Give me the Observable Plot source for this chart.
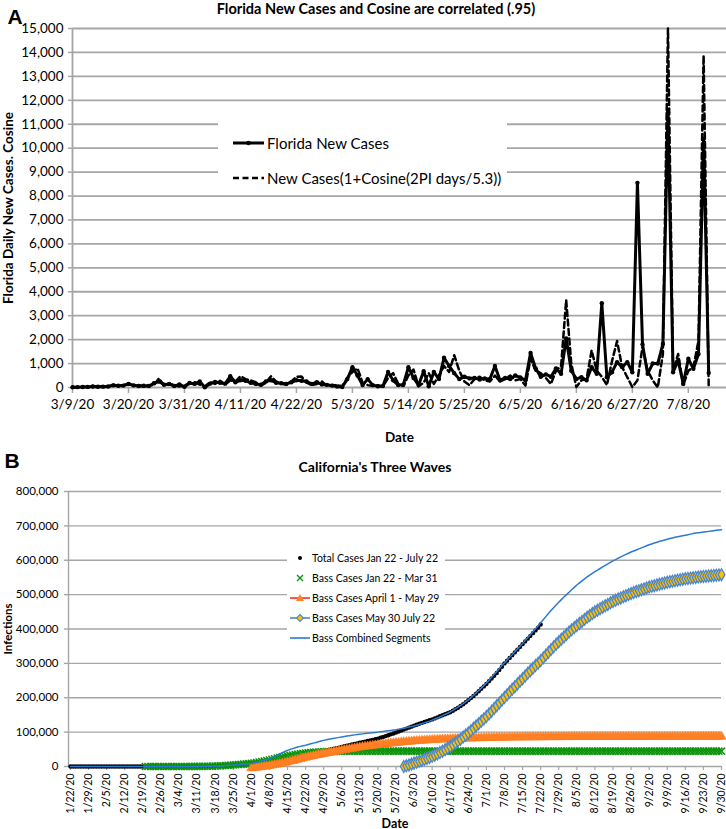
<!DOCTYPE html>
<html><head><meta charset="utf-8">
<script src="https://cdn.jsdelivr.net/npm/d3@7"></script>
<script src="https://cdn.jsdelivr.net/npm/@observablehq/plot@0.6"></script>
<style>
body{margin:0;background:#fff;}
#wrap{position:relative;width:726px;height:829px;overflow:hidden;font-family:Lato,sans-serif;background:#fff;}
.t{position:absolute;white-space:nowrap;line-height:1;transform:translate(-50%,-50%);color:#000;}
.lg{position:absolute;background:#fff;}
</style></head><body><div id="wrap"></div>
<script>
// ---------- Panel A data (Florida, daily from 3/9/20) ----------
const floridaStart = "3/9/20";
const floridaNewCases = [
10,15,20,25,40,30,35,40,90,70,
80,150,90,60,70,60,180,250,120,150,
60,130,30,190,150,250,10,160,230,200,
160,470,220,300,280,200,150,120,250,300,
200,180,150,220,300,280,250,150,220,130,
110,80,40,20,350,850,500,100,350,100,
50,60,650,300,100,120,850,400,100,680,
50,650,350,1240,900,600,350,450,380,400,
330,380,350,900,300,400,350,500,420,300,
1440,800,450,550,450,800,570,2050,700,360,
430,300,850,570,3520,430,640,1060,850,1060,
640,8550,1800,570,1000,1000,1820,11500,640,1130,
150,1200,780,1400,10400,610];
const newCasesCosine = [
20,10,30,20,60,20,50,30,120,60,
100,180,60,100,40,90,100,380,80,160,
100,40,90,150,220,120,40,220,150,280,
120,300,250,470,350,300,220,80,200,470,
250,160,120,250,450,460,200,100,150,250,
60,100,90,60,400,650,800,200,100,60,
80,40,400,600,150,60,500,750,50,200,
600,150,500,900,650,1350,700,250,100,350,
450,300,250,500,250,350,500,300,350,80,
1200,700,600,400,150,700,900,3650,1000,20,
300,350,1550,700,450,100,1100,1940,850,430,
20,300,1700,700,300,0,1400,15000,700,1400,
100,700,850,1960,13870,100];
const ticksA = ["3/9/20","3/20/20","3/31/20","4/11/20","4/22/20","5/3/20","5/14/20","5/25/20","6/5/20","6/16/20","6/27/20","7/8/20"];
const domainA = ["3/9/20","7/15/20"];

// ---------- Panel B data (California, thousands) ----------
const totalStart = "1/22/20";
const totalCases = [
0,0,0,0,0.002,0.002,0.002,0.002,0.002,0.003,
0.003,0.003,0.006,0.006,0.006,0.006,0.006,0.006,0.006,0.006,
0.007,0.007,0.007,0.007,0.008,0.008,0.008,0.008,0.009,0.01,
0.011,0.012,0.013,0.014,0.016,0.02,0.025,0.03,0.035,0.04,
0.05,0.06,0.07,0.08,0.09,0.11,0.13,0.15,0.18,0.2,
0.25,0.32,0.4,0.5,0.6,0.75,1.0,
1.2,1.4,1.7,2.0,2.4,2.9,3.5,
4.0,4.5,5.0,5.5,6.0,6.5,7.0,
7.8,8.6,9.4,10.2,11.0,12.0,13.0,
14,15,16,17,18,19,20,
21.4,22.8,24.2,25.6,27,28.5,30,
32,34,36,38,40,42,44,
46,48,50,52,53.5,55,57,
58.7,60.4,62.1,63.8,65.5,67.2,69,
70.7,72.4,74.1,75.8,77.5,79.2,81,
83.5,86,88.5,91,93.5,96,99,
101.8,104.6,107.4,110.2,113,116,119,
121.6,124.2,126.8,129.4,132,134.5,137,
140,143,146,149,152,155,158,
162,166.5,171,176,181,187,193,
199,205,212,219,226,233,240,
248,256,264,272,281,290,300,
308,316,324,332,340,348,356,
364,372,380,388,396,404,413];
const bassJanStart = "2/20/20";
const bassJanMar = [
0,0.002,0.004,0.006,0.008,0.01,0.015,0.02,0.025,0.03,0.04,
0.05,0.06,0.08,0.1,0.12,0.15,0.18,0.22,0.26,0.3,
0.37,0.45,0.55,0.68,0.83,1.0,1.3,
1.6,1.9,2.3,2.8,3.3,3.9,4.5,
5.1,5.7,6.3,6.9,7.6,8.3,9,
10.2,11.5,13,14.5,16,17.5,19,
20.8,22.6,24.4,26.2,28,29.5,31,
32.3,33.6,34.8,36,37.1,38.1,39,
39.8,40.5,41.1,41.7,42.2,42.6,43,
43.3,43.5,43.7,43.9,44,44.2,44.3,
44.4,44.4,44.5,44.5,44.5,44.6,44.6,
44.6,44.6,44.6,44.6,44.6,44.6,44.6,
44.7,44.7,44.7,44.7,44.7,44.7,44.7,
44.7,44.7,44.7,44.7,44.7,44.7,44.7,
44.7,44.7,44.7,44.7,44.7,44.7,44.7,
44.7,44.7,44.7,44.7,44.7,44.7,44.7,
44.7,44.7,44.7,44.7,44.7,44.7,44.7,
44.7,44.7,44.7,44.7,44.7,44.7,44.7,
44.7,44.7,44.7,44.7,44.7,44.7,44.7,
44.7,44.7,44.7,44.7,44.7,44.7,44.7,
44.7,44.7,44.7,44.7,44.7,44.7,44.7,
44.7,44.7,44.7,44.7,44.7,44.7,44.7,
44.7,44.7,44.7,44.7,44.7,44.7,44.7,
44.7,44.7,44.7,44.7,44.7,44.7,44.7,
44.7,44.7,44.7,44.7,44.7,44.7,44.7,
44.7,44.7,44.7,44.7,44.7,44.7,44.7,
44.7,44.7,44.7,44.7,44.7,44.7,44.7,
44.7,44.7,44.7,44.7,44.7,44.7,44.7,
44.7,44.7,44.7,44.7,44.7,44.7,44.7,
44.7,44.7,44.7,44.7,44.7,44.7,44.7,
44.7,44.7,44.7,44.7,44.7,44.7,44.7];
const bassAprStart = "4/1/20";
const bassAprMay = [
-5,-4,-3,-2,-1,0,1,
2,3.5,5,6.5,8,9.5,11,
13,14.8,16.6,18.5,20.4,22.3,24.2,
26,27.6,29.2,30.8,32.4,34,35.5,
37,38.4,39.8,41.2,42.6,44,45.5,
47,48.3,49.6,50.9,52.2,53.5,54.8,
56,57,58,59,60,61,62,
63,63.9,64.8,65.6,66.4,67.2,68,
69,69.7,70.4,71.1,71.8,72.5,73.2,
74,74.5,75,75.5,76,76.5,77,
77.5,77.9,78.3,78.7,79,79.3,79.6,
80,80.3,80.6,80.9,81.2,81.5,81.8,
82,82.2,82.4,82.6,82.8,83,83.2,
83.5,83.6,83.8,83.9,84,84.2,84.3,
84.5,84.6,84.7,84.8,84.9,85,85.1,
85.2,85.3,85.4,85.4,85.5,85.6,85.6,
85.7,85.7,85.8,85.8,85.9,85.9,86,
86,86,86.1,86.1,86.1,86.2,86.2,
86.3,86.3,86.3,86.3,86.3,86.3,86.3,
86.4,86.4,86.4,86.4,86.4,86.4,86.4,
86.5,86.5,86.5,86.5,86.5,86.5,86.5,
86.6,86.6,86.6,86.6,86.6,86.6,86.6,
86.7,86.7,86.7,86.7,86.7,86.7,86.7,
86.8,86.8,86.8,86.8,86.8,86.8,86.8,
86.9,86.9,86.9,86.9,86.9,86.9,86.9,
87,87,87,87,87,87,87,
87];
const bassMayStart = "5/30/20";
const bassMayJul = [
0,2,4.5,7,10,
12.5,15,17.5,20.5,23.5,26.5,29.5,
33,36.5,40.5,44.5,49,53.5,58,
63,68.5,74,79.5,85.5,91.5,97.5,
104,111,118,124.5,131.5,138.5,145.5,
153,161,169,177,185,193,200.5,
208.5,216.5,224.5,232,240,248,255.5,
263,271,278.5,286,293.5,300.5,308,
316,324,332,340,348,355.5,363,
370,377,384,391,397.5,404,410,
416,422,428,434,439.5,445,450,
454.5,459,463.5,467.5,471.5,476,480,
483.5,487,490.5,494,497,500,503,
506,509,511.5,514,516.5,519.5,522,
524,526,528,530,532,534,536,
537.5,539,540.5,542,543.5,545,546,
547,548,549,550,551,552,553,
553.7,554.4,555.1,555.8,556.5,557.2,558];
const combinedStart = "1/22/20";
const bassCombined = [
0,0,0,0,0,0,0,0,0,0,
0,0,0,0,0,0,0,0,0,0,
0,0,0,0,0,0,0,0,0,0,
0.002,0.004,0.006,0.008,0.01,0.015,0.02,0.025,0.03,0.04,
0.05,0.06,0.08,0.1,0.12,0.15,0.18,0.22,0.26,0.3,
0.37,0.45,0.55,0.68,0.83,1.0,1.3,
1.6,1.9,2.3,2.8,3.3,3.9,4.5,
5.1,5.7,6.3,6.9,7.6,8.3,9,
10.5,12,13.8,15.8,18,20.5,23,
26,29.5,33,36.5,40,43.5,47,
49.5,52,54.3,56.5,58.5,60.3,62,
64,66,68,70,72,74,76,
77.5,79,80.5,82,83.3,84.7,86,
87.2,88.4,89.6,90.8,92,93,94,
94.9,95.8,96.7,97.5,98.3,99.1,100,
101,102,103,104,105,106,107,
108.5,110,111.5,113,114.7,116.4,118,
120,122,124.5,127,129.5,132,135,
138,141,144.5,148,151.5,155,159,
163.5,168,173,178,183,188.5,194,
200.5,207,214,221,228,235.5,243,
251,259.5,268,276.5,285,293.5,302,
310,318,326,334,342,350,358,
366.5,375,383.5,392,400.5,409,418,
427,436,445,453.5,462,470,478,
485.5,493,500,507,514,521,528,
534,540,546,551.5,557,562,567,
571.5,576,580.5,585,589.5,594,598,
602,606,610,613.5,617,620.5,624,
627,630,633,636,639,642,645,
647.5,650,652.5,655,657,659,661,
663,665,667,668.5,670,671.5,673,
674.5,676,677.5,679,680,681,682,
683,684,685,686,687,688,689];
const ticksB = ["1/22/20","1/29/20","2/5/20","2/12/20","2/19/20","2/26/20","3/4/20","3/11/20","3/18/20","3/25/20","4/1/20","4/8/20","4/15/20","4/22/20","4/29/20","5/6/20","5/13/20","5/20/20","5/27/20","6/3/20","6/10/20","6/17/20","6/24/20","7/1/20","7/8/20","7/15/20","7/22/20","7/29/20","8/5/20","8/12/20","8/19/20","8/26/20","9/2/20","9/9/20","9/16/20","9/23/20","9/30/20"];
const domainB = ["1/21/20","9/30/20"];

// ---------- helpers ----------
const DAY = 864e5;
const parse = s => { const [m,d,y] = s.split("/").map(Number); return new Date(Date.UTC(2000 + y, m - 1, d)); };
const series = (start, vals) => { const s = +parse(start); return vals.map((v, i) => ({date: new Date(s + i * DAY), v})); };
const fmtDate = d3.utcFormat("%-m/%-d/%y");
const grid = "#a6a6a6";
const wrap = document.getElementById("wrap");

// ---------- Chart A ----------
const fl = series(floridaStart, floridaNewCases);
const cs = series(floridaStart, newCasesCosine);
const xA0 = parse(domainA[0]);
const xA1 = new Date(+parse(domainA[1]) + DAY / 2);
const chartA = Plot.plot({
  width: 726, height: 448,
  marginLeft: 72, marginRight: 0, marginTop: 28, marginBottom: 61,
  style: {fontFamily: "Lato, sans-serif", fontSize: "13px", background: "transparent", color: "#000", overflow: "visible"},
  x: {type: "utc", domain: [xA0, xA1]},
  y: {domain: [0, 15000]},
  marks: [
    Plot.gridY({ticks: 15, stroke: grid, strokeOpacity: 1, strokeWidth: 1.8}),
    Plot.axisY({ticks: 15, tickFormat: d3.format(","), tickSize: 4, tickPadding: 5, stroke: grid, strokeWidth: 1.5, fontSize: 13.5, label: null}),
    Plot.axisX({ticks: ticksA.map(parse), tickFormat: fmtDate, tickSize: 6, tickPadding: 6, stroke: grid, strokeWidth: 1.5, fontSize: 13.5, label: null}),
    Plot.ruleX([xA0], {stroke: grid, strokeWidth: 1.8}),
    Plot.text(["Florida Daily New Cases. Cosine"], {frameAnchor: "left", rotate: -90, dx: -64, textAnchor: "middle", lineAnchor: "middle", fontWeight: "bold", fontSize: 13.5}),
    Plot.text(["Date"], {frameAnchor: "bottom", dy: 50, textAnchor: "middle", lineAnchor: "middle", fontWeight: "bold", fontSize: 13.5}),
    Plot.line(fl, {x: "date", y: "v", stroke: "#000", strokeWidth: 3}),
    Plot.dot(fl, {x: "date", y: "v", r: 2.2, fill: "#000"}),
    Plot.line(cs, {x: "date", y: "v", stroke: "#000", strokeWidth: 2.5, strokeDasharray: "6,3.5"})
  ]
});
chartA.style.position = "absolute"; chartA.style.left = "0px"; chartA.style.top = "0px";
wrap.appendChild(chartA);

// ---------- Chart B ----------
const tot = series(totalStart, totalCases);
const gJ = series(bassJanStart, bassJanMar);
const oA = series(bassAprStart, bassAprMay);
const bM = series(bassMayStart, bassMayJul);
const cmb = series(combinedStart, bassCombined);
const xB0 = new Date(+parse(domainB[0]) + DAY * 0.23);
const xB1 = parse(domainB[1]);
const cBlue = "#4a86d0";
const cGreen = "#0c940c";
const chartB = Plot.plot({
  width: 726, height: 384,
  marginLeft: 68, marginRight: 5, marginTop: 46, marginBottom: 63,
  style: {fontFamily: "Lato, sans-serif", fontSize: "11px", background: "transparent", color: "#000", overflow: "visible"},
  x: {type: "utc", domain: [xB0, xB1]},
  y: {domain: [0, 800]},
  marks: [
    Plot.gridY({ticks: 8, stroke: grid, strokeOpacity: 1, strokeWidth: 1.4}),
    Plot.axisY({ticks: 8, tickFormat: d => d3.format(",")(d * 1000), tickSize: 4, tickPadding: 6, stroke: grid, strokeWidth: 1.4, fontSize: 11.5, label: null}),
    Plot.axisX({ticks: ticksB.map(parse), tickFormat: fmtDate, tickRotate: -90, tickSize: 4, tickPadding: 3, stroke: grid, strokeWidth: 1.2, fontSize: 10.5, label: null}),
    Plot.ruleX([xB0], {stroke: grid, strokeWidth: 1.4}),
    Plot.text(["Infections"], {frameAnchor: "left", rotate: -90, dx: -60, textAnchor: "middle", lineAnchor: "middle", fontWeight: "bold", fontSize: 11.5}),
    Plot.text(["Date"], {frameAnchor: "bottom", dy: 57, textAnchor: "middle", lineAnchor: "middle", fontWeight: "bold", fontSize: 12.5}),
    Plot.dot(tot, {x: "date", y: "v", r: 2.2, fill: "#000"}),
    Plot.dot(gJ, {x: "date", y: "v", symbol: "times", r: 3.3, stroke: cGreen, strokeWidth: 1.5}),
    Plot.line(oA, {x: "date", y: "v", stroke: "#ff2a1a", strokeWidth: 1.5}),
    Plot.dot(oA, {x: "date", y: "v", symbol: "triangle", r: 3.4, fill: "#ff8228", stroke: "#ff7a1a", strokeWidth: 0.6}),
    Plot.line(bM, {x: "date", y: "v", stroke: cBlue, strokeWidth: 2}),
    Plot.dot(bM, {x: "date", y: "v", symbol: "diamond", r: 3.6, fill: "#ffc000", stroke: cBlue, strokeWidth: 1.3}),
    Plot.line(cmb, {x: "date", y: "v", stroke: "#2a7ad2", strokeWidth: 1.5})
  ]
});
chartB.style.position = "absolute"; chartB.style.left = "0px"; chartB.style.top = "445px";
wrap.appendChild(chartB);

// ---------- Titles, panel letters, legends ----------
function txt(s, x, y, css) { const d = document.createElement("div"); d.className = "t"; d.textContent = s; d.style.left = x + "px"; d.style.top = y + "px"; Object.assign(d.style, css); wrap.appendChild(d); }
txt("A", 15, 16, {fontFamily: "'Liberation Sans', Arial, sans-serif", fontWeight: "bold", fontSize: "21px"});
txt("Florida New Cases and Cosine are correlated (.95)", 376, 9, {fontWeight: "bold", fontSize: "14.5px"});
txt("B", 12, 460, {fontFamily: "'Liberation Sans', Arial, sans-serif", fontWeight: "bold", fontSize: "21px"});
txt("California's Three Waves", 375, 467, {fontWeight: "bold", fontSize: "14px"});

const NS = "http://www.w3.org/2000/svg";
function el(tag, attrs, parent) { const e = document.createElementNS(NS, tag); for (const k in attrs) e.setAttribute(k, attrs[k]); parent.appendChild(e); return e; }
function legend(left, top, w, h) { const s = document.createElementNS(NS, "svg"); s.setAttribute("width", w); s.setAttribute("height", h); s.setAttribute("class", "lg"); s.style.left = left + "px"; s.style.top = top + "px"; wrap.appendChild(s); el("rect", {x: 0, y: 0, width: w, height: h, fill: "#fff"}, s); return s; }
function label(s, x, y, str, size) { const t = el("text", {x, y, "dominant-baseline": "central", "font-family": "Lato, sans-serif", "font-size": size, fill: "#000"}, s); t.textContent = str; }

const lgA = legend(218, 106, 289, 82);
el("line", {x1: 15, x2: 46, y1: 37, y2: 37, stroke: "#000", "stroke-width": 3}, lgA);
el("circle", {cx: 30.5, cy: 37, r: 2.3, fill: "#000"}, lgA);
label(lgA, 49, 37, "Florida New Cases", "15px");
el("line", {x1: 15, x2: 46, y1: 72, y2: 72, stroke: "#000", "stroke-width": 2.5, "stroke-dasharray": "6,3.5"}, lgA);
label(lgA, 49, 72, "New Cases(1+Cosine(2PI days/5.3))", "15px");

const lgB = legend(287, 540, 158, 108);
const ly = [18, 38, 58, 78, 98];
el("circle", {cx: 13, cy: ly[0], r: 2, fill: "#000"}, lgB);
label(lgB, 25, ly[0], "Total Cases Jan 22 - July 22", "10.5px");
el("path", {d: `M10,${ly[1]-3}L16,${ly[1]+3}M10,${ly[1]+3}L16,${ly[1]-3}`, stroke: cGreen, "stroke-width": 1.4}, lgB);
label(lgB, 25, ly[1], "Bass Cases Jan 22 - Mar 31", "10.5px");
el("line", {x1: 3, x2: 23, y1: ly[2], y2: ly[2], stroke: "#ff2a1a", "stroke-width": 1.6}, lgB);
el("path", {d: `M13,${ly[2]-4}L17,${ly[2]+3}L9,${ly[2]+3}Z`, fill: "#ff8228"}, lgB);
label(lgB, 25, ly[2], "Bass Cases April 1 - May 29", "10.5px");
el("line", {x1: 3, x2: 23, y1: ly[3], y2: ly[3], stroke: cBlue, "stroke-width": 1.6}, lgB);
el("path", {d: `M13,${ly[3]-3.5}L16.5,${ly[3]}L13,${ly[3]+3.5}L9.5,${ly[3]}Z`, fill: "#ffc000", stroke: cBlue, "stroke-width": 1.1}, lgB);
label(lgB, 25, ly[3], "Bass Cases May 30 July 22", "10.5px");
el("line", {x1: 3, x2: 23, y1: ly[4], y2: ly[4], stroke: "#2a7ad2", "stroke-width": 1.6}, lgB);
label(lgB, 25, ly[4], "Bass Combined Segments", "10.5px");
</script></body></html>
